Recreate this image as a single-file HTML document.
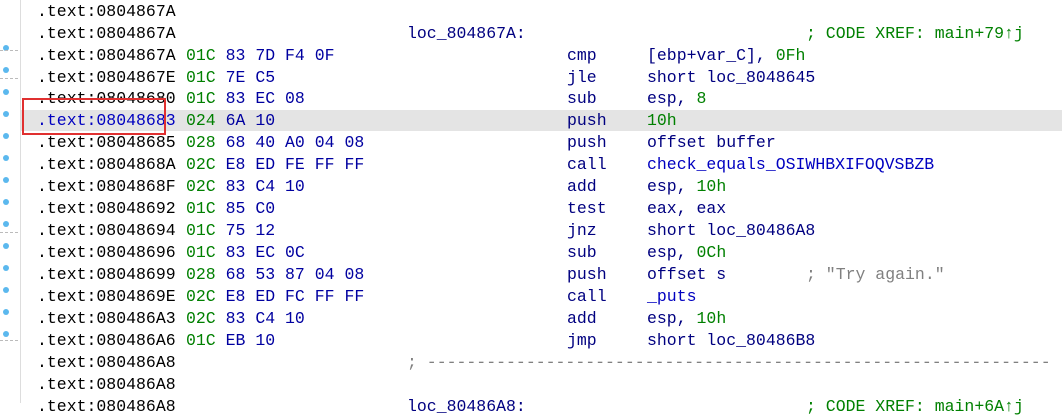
<!DOCTYPE html>
<html><head><meta charset="utf-8"><style>
body{margin:0;width:1062px;height:403px;overflow:hidden;background:#fff;position:relative;font-family:"Liberation Mono",monospace;font-size:16.5px;}
.r{position:absolute;left:0;width:1062px;height:22px;line-height:22px;white-space:pre;}
.r span{position:absolute;top:0;}
.a{left:37px;color:#000}
.b{left:186px;color:#0000a0}
.g{color:#008000}
.l{left:407px;color:#000080}
.m{left:567px;color:#000080}
.o{left:647px;color:#000080}
.c{left:806px;color:#008000}
.cg{left:806px;color:#808080}
.dot{position:absolute;left:3px;width:6px;height:6px;border-radius:3px;background:#5bb8ee}
</style></head><body>
<div style="position:absolute;left:20px;top:0;width:1px;height:403px;background:#ddd"></div>
<div style="position:absolute;left:21px;top:110px;width:1041px;height:21px;background:#e4e4e4"></div>

<div class="r" style="top:1px"><span class="a">.text:0804867A</span></div>
<div class="r" style="top:23px"><span class="a">.text:0804867A</span><span class="l">loc_804867A:</span><span class="c">; CODE XREF: main+79↑j</span></div>
<div class="r" style="top:45px"><span class="a">.text:0804867A</span><span class="b"><i class="g" style="font-style:normal">01C</i> 83 7D F4 0F</span><span class="m">cmp</span><span class="o">[ebp+var_C], <i class="g" style="font-style:normal">0Fh</i></span></div>
<div class="r" style="top:67px"><span class="a">.text:0804867E</span><span class="b"><i class="g" style="font-style:normal">01C</i> 7E C5</span><span class="m">jle</span><span class="o">short loc_8048645</span></div>
<div class="r" style="top:88px"><span class="a">.text:08048680</span><span class="b"><i class="g" style="font-style:normal">01C</i> 83 EC 08</span><span class="m">sub</span><span class="o">esp, <i class="g" style="font-style:normal">8</i></span></div>
<div class="r" style="top:110px"><span class="a" style="color:#0000c0">.text:08048683</span><span class="b"><i class="g" style="font-style:normal">024</i> 6A 10</span><span class="m">push</span><span class="o g" style="color:#008000">10h</span></div>
<div class="r" style="top:132px"><span class="a">.text:08048685</span><span class="b"><i class="g" style="font-style:normal">028</i> 68 40 A0 04 08</span><span class="m">push</span><span class="o">offset buffer</span></div>
<div class="r" style="top:154px"><span class="a">.text:0804868A</span><span class="b"><i class="g" style="font-style:normal">02C</i> E8 ED FE FF FF</span><span class="m">call</span><span class="o" style="color:#0000c0">check_equals_OSIWHBXIFOQVSBZB</span></div>
<div class="r" style="top:176px"><span class="a">.text:0804868F</span><span class="b"><i class="g" style="font-style:normal">02C</i> 83 C4 10</span><span class="m">add</span><span class="o">esp, <i class="g" style="font-style:normal">10h</i></span></div>
<div class="r" style="top:198px"><span class="a">.text:08048692</span><span class="b"><i class="g" style="font-style:normal">01C</i> 85 C0</span><span class="m">test</span><span class="o">eax, eax</span></div>
<div class="r" style="top:220px"><span class="a">.text:08048694</span><span class="b"><i class="g" style="font-style:normal">01C</i> 75 12</span><span class="m">jnz</span><span class="o">short loc_80486A8</span></div>
<div class="r" style="top:242px"><span class="a">.text:08048696</span><span class="b"><i class="g" style="font-style:normal">01C</i> 83 EC 0C</span><span class="m">sub</span><span class="o">esp, <i class="g" style="font-style:normal">0Ch</i></span></div>
<div class="r" style="top:264px"><span class="a">.text:08048699</span><span class="b"><i class="g" style="font-style:normal">028</i> 68 53 87 04 08</span><span class="m">push</span><span class="o">offset s</span><span class="cg">; "Try again."</span></div>
<div class="r" style="top:286px"><span class="a">.text:0804869E</span><span class="b"><i class="g" style="font-style:normal">02C</i> E8 ED FC FF FF</span><span class="m">call</span><span class="o" style="color:#0000c0">_puts</span></div>
<div class="r" style="top:308px"><span class="a">.text:080486A3</span><span class="b"><i class="g" style="font-style:normal">02C</i> 83 C4 10</span><span class="m">add</span><span class="o">esp, <i class="g" style="font-style:normal">10h</i></span></div>
<div class="r" style="top:330px"><span class="a">.text:080486A6</span><span class="b"><i class="g" style="font-style:normal">01C</i> EB 10</span><span class="m">jmp</span><span class="o">short loc_80486B8</span></div>
<div class="r" style="top:352px"><span class="a">.text:080486A8</span><span class="l" style="color:#808080">; ---------------------------------------------------------------</span></div>
<div class="r" style="top:374px"><span class="a">.text:080486A8</span></div>
<div class="r" style="top:396px"><span class="a">.text:080486A8</span><span class="l">loc_80486A8:</span><span class="c">; CODE XREF: main+6A↑j</span></div>

<div class="dot" style="top:45px"></div><div class="dot" style="top:67px"></div><div class="dot" style="top:89px"></div>
<div class="dot" style="top:111px"></div><div class="dot" style="top:133px"></div><div class="dot" style="top:155px"></div>
<div class="dot" style="top:177px"></div><div class="dot" style="top:199px"></div><div class="dot" style="top:221px"></div>
<div class="dot" style="top:243px"></div><div class="dot" style="top:265px"></div><div class="dot" style="top:287px"></div>
<div class="dot" style="top:309px"></div><div class="dot" style="top:331px"></div>
<div style="position:absolute;left:0;top:50px;width:18px;border-top:1px dashed #bbb"></div>
<div style="position:absolute;left:0;top:78px;width:18px;border-top:1px dashed #bbb"></div>
<div style="position:absolute;left:0;top:232px;width:18px;border-top:1px dashed #bbb"></div>
<div style="position:absolute;left:0;top:340px;width:18px;border-top:1px dashed #bbb"></div>

<div style="position:absolute;left:22px;top:98px;width:140px;height:33px;border:2px solid #e03030"></div>
</body></html>
